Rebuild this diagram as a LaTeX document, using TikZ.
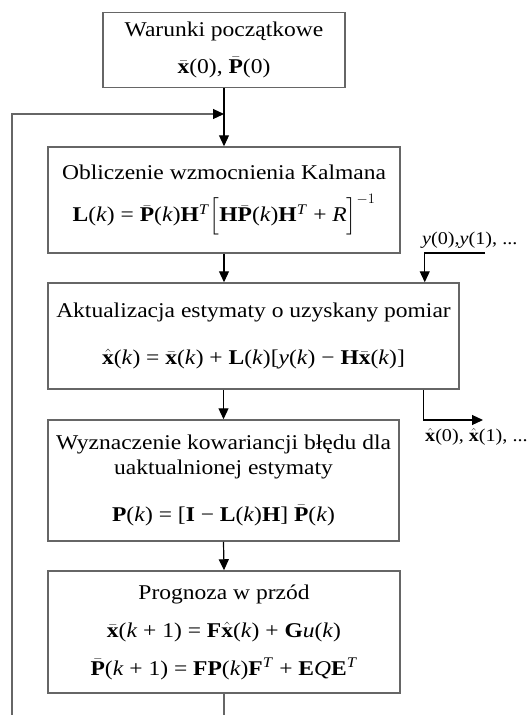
\documentclass[tikz,border=0pt]{standalone}
\usepackage{amsmath}
\usepackage{fontspec}
\setmainfont[FakeStretch=1.12]{Liberation Serif}
\usetikzlibrary{arrows.meta}

\newcommand{\ob}[1]{$\bar{\mbox{\textbf{#1}}}$}
\newcommand{\oh}[1]{$\hat{\mbox{\textbf{#1}}}$}
\newcommand{\ik}{\textit{k}}
\newcommand{\tp}{\textsuperscript{\textit{T}}}

\begin{document}
\begin{tikzpicture}[x=1pt,y=-1pt,
  every node/.style={font=\fontsize{21}{25}\selectfont},
  box/.style={draw=black!60,line width=1.5pt,fill=white,align=center,inner sep=0pt},
  lbl/.style={anchor=west,inner sep=0pt,font=\fontsize{18}{22}\selectfont},
  flow/.style={-{Triangle[length=11pt,width=10pt,color=black]},line width=1.2pt},
  wire/.style={draw=black!60,line width=1.8pt}]
\useasboundingbox (0,0) rectangle (527,715);

\node[box,minimum width=242pt,minimum height=75pt] (init) at (224,50)
  {Warunki początkowe\\[12pt]\ob{x}(0), \ob{P}(0)};
\node[box,minimum width=352pt,minimum height=106pt] (gain) at (224,200)
  {Obliczenie wzmocnienia Kalmana\\[14pt]
   \textbf{L}(\ik) = \ob{P}(\ik)\textbf{H}\tp$\Bigl[$\textbf{H}\ob{P}(\ik)\textbf{H}\tp{} + \textit{R}$\Bigr]^{-1}$};
\node[box,minimum width=411pt,minimum height=106pt] (update) at (253.5,336)
  {Aktualizacja estymaty o uzyskany pomiar\\[22pt]
   \oh{x}(\ik) = \ob{x}(\ik) + \textbf{L}(\ik)[\textit{y}(\ik) − \textbf{H}\ob{x}(\ik)]};
\node[box,minimum width=351pt,minimum height=121pt] (cov) at (223.5,480.5)
  {Wyznaczenie kowariancji błędu dla\\uaktualnionej estymaty\\[22pt]
   \textbf{P}(\ik) = [\textbf{I} − \textbf{L}(\ik)\textbf{H}] \ob{P}(\ik)};
\node[box,minimum width=352pt,minimum height=122pt] (pred) at (224,632)
  {Prognoza w przód\\[13pt]
   \ob{x}(\ik{} + 1) = \textbf{F}\oh{x}(\ik) + \textbf{G}\textit{u}(\ik)\\[13pt]
   \ob{P}(\ik{} + 1) = \textbf{FP}(\ik)\textbf{F}\tp{} + \textbf{E}\textit{Q}\textbf{E}\tp};

% wejscie i wyjscie
\node[lbl] (meas) at (422,240) {\textit{y}(0),\textit{y}(1), ...};
\node[lbl] (est) at (425,437) {\oh{x}(0), \oh{x}(1), ...};

\coordinate (ystart) at (485,253);
\coordinate (xend) at (483,420);
\coordinate (join) at (224,114);
\coordinate (fb) at (12,715);
\coordinate (bot) at (224,715);

\draw[flow] (init.south) -- (gain.north);
\draw[flow,draw=black!60] (fb) |- (join);
\draw[flow] (gain.south) -- (gain.south |- update.north);
\draw[flow] (ystart) -| ([xshift=-35pt]update.north east);
\draw[flow] ([xshift=-36pt]update.south east) |- (xend);
\draw[flow] (update.south -| cov.north) -- (cov.north);
\draw[flow] (cov.south) -- (pred.north);
\draw[wire] (pred.south) -- (bot);

\end{tikzpicture}
\end{document}
